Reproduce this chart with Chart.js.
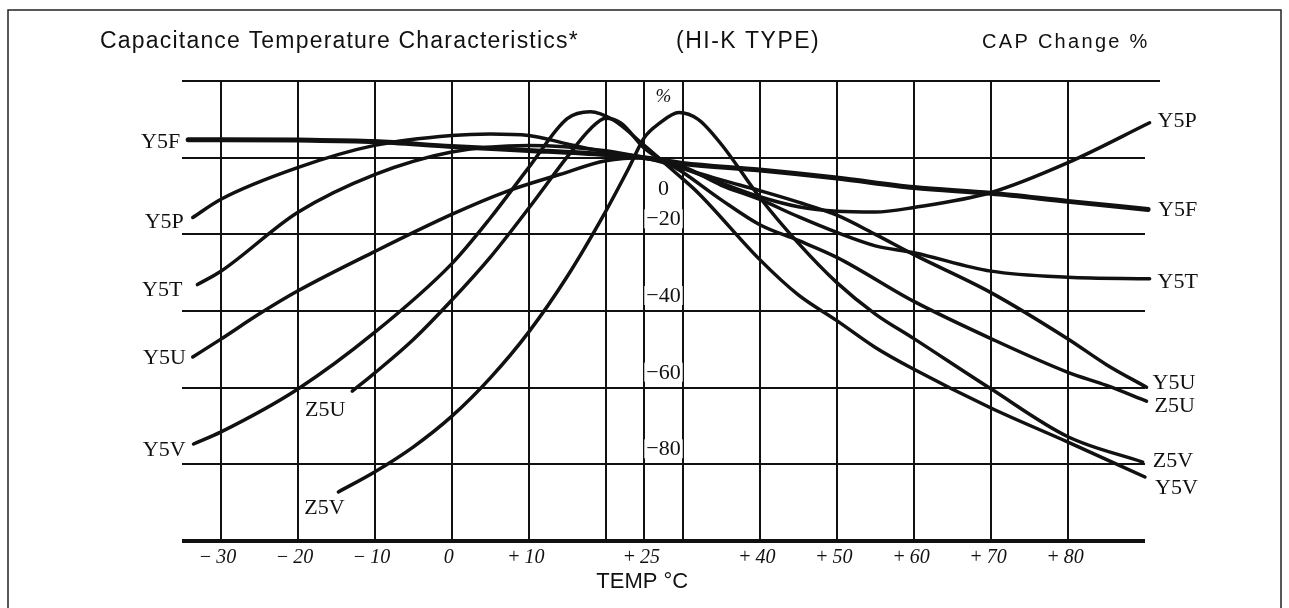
<!DOCTYPE html>
<html>
<head>
<meta charset="utf-8">
<title>Capacitance Temperature Characteristics</title>
<script src="https://cdn.jsdelivr.net/npm/chart.js@4.4.1/dist/chart.umd.min.js"></script>
<style>
  body { margin: 0; background: #fff; }
  #box { width: 1289px; height: 608px; }
</style>
</head>
<body>
<div id="box"><canvas id="capChart" width="1289" height="608"></canvas></div>
<script>
const tempTicks = [-30, -20, -10, 0, 10, 20, 25, 30, 40, 50, 60, 70, 80];
const tempTickLabels = ['\u2212\u200930', '\u2212\u200920', '\u2212\u200910', '0', '+\u200910', '', '+\u200925', '', '+\u200940', '+\u200950', '+\u200960', '+\u200970', '+\u200980'];
const capTicks = [-100, -80, -60, -40, -20, 0, 20];
const capTickLabels = ['', '\u221280', '\u221260', '\u221240', '\u221220', '0', '%'];

const y5fTemp = [-34.2, -30, -20, -10, 0, 10, 20, 25, 30, 40, 50, 60, 70, 80, 90.4];
const y5fCap = [4.7, 4.7, 4.6, 4.2, 2.9, 1.9, 0.8, 0, -1.5, -3.2, -5.3, -7.8, -9.3, -11.4, -13.5];

const y5pTemp = [-33.6, -30, -20, -10, 0, 5, 10, 15, 20, 25, 30, 35, 40, 45, 50, 55, 60, 70, 80, 90.6];
const y5pCap = [-15.6, -10.9, -2.6, 3.2, 5.8, 6.2, 5.8, 3.6, 1.5, 0, -2.8, -6.6, -10.2, -12.8, -14, -14.2, -13, -9.1, -1.3, 9.1];

const y5tTemp = [-33, -30, -20, -10, 0, 10, 20, 25, 30, 35, 40, 45, 50, 55, 60, 70, 80, 90.6];
const y5tCap = [-33.1, -29.7, -14.3, -4.4, 1.5, 3.2, 1.8, 0, -2.3, -7.2, -10.9, -15.4, -19.5, -23, -24.8, -29.6, -31.2, -31.6];

const y5uTemp = [-33.6, -30, -25, -20, -10, 0, 7, 14, 20, 25, 30, 35, 40, 45, 50, 55, 60, 70, 80, 85, 90.2];
const y5uCap = [-52, -47.4, -40.8, -34.8, -24.5, -14.8, -8.9, -4.4, -0.8, 0, -2.8, -5.8, -8.6, -11.6, -15, -20, -25.3, -35.2, -47.3, -54, -59.9];

const z5uTemp = [-12.9, -10, -5, 0, 5, 10, 15, 18, 20, 22, 25, 30, 35, 40, 45, 50, 60, 70, 80, 85, 90.2];
const z5uCap = [-60.9, -56.2, -47.5, -37.2, -26, -13.2, 0.2, 7.5, 10.3, 9, 2.5, -3.8, -11, -17.5, -21.6, -26, -37.5, -47.2, -56, -59.4, -63.5];

const y5vTemp = [-33.5, -30, -20, -10, 0, 5, 10, 15, 18, 21, 25, 29, 32, 40, 45, 50, 55, 60, 70, 80, 90];
const y5vCap = [-74.7, -71.6, -60.4, -45.6, -27.7, -15.8, -2.6, 10.2, 12, 9.8, 3.2, -3.8, -9.2, -26.6, -35.8, -42.5, -49.5, -55.2, -65.3, -74.2, -83.3];

const z5vTemp = [-14.7, -10, -5, 0, 5, 10, 15, 20, 23, 25, 27, 29.5, 32, 35, 40, 45, 50, 55, 60, 70, 80, 89.7];
const z5vCap = [-87.2, -82, -75.5, -67.5, -57.5, -45.5, -31, -14, -2.7, 5.2, 9, 11.8, 10, 3.5, -10.4, -22.3, -32.6, -40.8, -47.2, -60.3, -72.8, -79.4];

const curves = [
  { name: 'Y5F', temp: y5fTemp, cap: y5fCap },
  { name: 'Y5P', temp: y5pTemp, cap: y5pCap },
  { name: 'Y5T', temp: y5tTemp, cap: y5tCap },
  { name: 'Y5U', temp: y5uTemp, cap: y5uCap },
  { name: 'Z5U', temp: z5uTemp, cap: z5uCap },
  { name: 'Y5V', temp: y5vTemp, cap: y5vCap },
  { name: 'Z5V', temp: z5vTemp, cap: z5vCap }
];

// pixel offsets of the end labels from each curve's first / last point
const labelSpots = {
  Y5F: { left: [-8, 8, 'right'], right: [10, 7] },
  Y5P: { left: [-9, 11, 'right'], right: [8, 4] },
  Y5T: { left: [-15, 11, 'right'], right: [8, 9] },
  Y5U: { left: [-7, 7, 'right'], right: [6, 2] },
  Z5U: { left: [-27, 25, 'center'], right: [8, 11] },
  Y5V: { left: [-8, 12, 'right'], right: [10, 17] },
  Z5V: { left: [-14, 22, 'center'], right: [10, 5] }
};

const ink = '#111';
const serif = '"Liberation Serif", "Times New Roman", serif';
const sans = '"Liberation Sans", Arial, sans-serif';

function spacedText(ctx, text, x, y, spacing) {
  ctx.letterSpacing = spacing + 'px';
  ctx.fillText(text, x, y);
  ctx.letterSpacing = '0px';
}

const chartText = {
  id: 'chartText',
  beforeDatasetsDraw(chart) {
    const ctx = chart.ctx;
    const xs = chart.scales.x;
    const ys = chart.scales.y;
    const cx = xs.getPixelForValue(27.5);
    ctx.save();
    ctx.textAlign = 'center';
    ctx.textBaseline = 'alphabetic';
    capTicks.forEach((v, i) => {
      const text = capTickLabels[i];
      if (!text) return;
      let base = ys.getPixelForValue(v) - 9;
      ctx.font = '22px ' + serif;
      if (v === 0) base = ys.getPixelForValue(v) + 37;
      if (v === 20) {
        base = ys.getPixelForValue(v) + 21;
        ctx.font = 'italic 19px ' + serif;
      }
      const w = ctx.measureText(text).width;
      ctx.fillStyle = '#fff';
      ctx.fillRect(cx - w / 2 - 2, base - 16, w + 4, 19);
      ctx.fillStyle = ink;
      ctx.fillText(text, cx, base);
    });
    ctx.restore();
  },
  afterDraw(chart) {
    const ctx = chart.ctx;
    const xs = chart.scales.x;
    const ys = chart.scales.y;
    const area = chart.chartArea;
    ctx.save();
    ctx.fillStyle = ink;
    ctx.textBaseline = 'alphabetic';

    ctx.textAlign = 'left';
    ctx.font = '23px ' + sans;
    spacedText(ctx, 'Capacitance Temperature Characteristics*', 100, 48, 1.2);
    spacedText(ctx, '(HI-K TYPE)', 676, 48, 1.5);
    ctx.font = '20px ' + sans;
    spacedText(ctx, 'CAP Change %', 982, 48, 2.3);

    ctx.textAlign = 'center';
    ctx.font = 'italic 20px ' + serif;
    tempTicks.forEach((v, i) => {
      if (tempTickLabels[i]) ctx.fillText(tempTickLabels[i], xs.getPixelForValue(v) - 3, 563);
    });
    ctx.font = '22px ' + sans;
    ctx.fillText('TEMP \u00B0C', xs.getPixelForValue(25) - 2, 588);

    ctx.font = '22px ' + serif;
    curves.forEach(c => {
      const spot = labelSpots[c.name];
      const n = c.temp.length - 1;
      const x0 = xs.getPixelForValue(c.temp[0]);
      const y0 = ys.getPixelForValue(c.cap[0]);
      const x1 = xs.getPixelForValue(c.temp[n]);
      const y1 = ys.getPixelForValue(c.cap[n]);
      ctx.textAlign = spot.left[2];
      ctx.fillText(c.name, x0 + spot.left[0], y0 + spot.left[1]);
      ctx.textAlign = 'left';
      ctx.fillText(c.name, x1 + spot.right[0], y1 + spot.right[1]);
    });

    ctx.strokeStyle = ink;
    ctx.lineWidth = 2;
    ctx.beginPath();
    ctx.moveTo(area.right, ys.getPixelForValue(20));
    ctx.lineTo(area.right + 15, ys.getPixelForValue(20));
    ctx.stroke();

    ctx.strokeStyle = '#222';
    ctx.lineWidth = 1.5;
    ctx.beginPath();
    ctx.moveTo(8, 608);
    ctx.lineTo(8, 10);
    ctx.lineTo(1281, 10);
    ctx.lineTo(1281, 608);
    ctx.stroke();
    ctx.restore();
  }
};

new Chart(document.getElementById('capChart'), {
  type: 'line',
  data: {
    datasets: curves.map(c => ({
      label: c.name,
      data: c.temp.map((t, i) => ({ x: t, y: c.cap[i] })),
      borderColor: ink,
      borderWidth: c.name === 'Y5F' ? 5 : 3.5,
      borderCapStyle: 'round',
      pointRadius: 0,
      fill: false,
      clip: false,
      cubicInterpolationMode: 'monotone'
    }))
  },
  options: {
    responsive: false,
    animation: false,
    layout: { padding: { left: 182, right: 144, top: 81, bottom: 67 } },
    plugins: {
      legend: { display: false },
      tooltip: { enabled: false }
    },
    scales: {
      x: {
        type: 'linear',
        min: -35,
        max: 90,
        afterBuildTicks: scale => { scale.ticks = tempTicks.map(v => ({ value: v })); },
        ticks: { display: false },
        grid: { color: ink, lineWidth: 2, drawTicks: false },
        border: { display: false }
      },
      y: {
        type: 'linear',
        min: -100,
        max: 20,
        afterBuildTicks: scale => { scale.ticks = capTicks.map(v => ({ value: v })); },
        ticks: { display: false },
        grid: {
          color: ink,
          lineWidth: ctx => (ctx.tick && ctx.tick.value === -100 ? 4 : 2),
          drawTicks: false
        },
        border: { display: false }
      }
    }
  },
  plugins: [chartText]
});
</script>
</body>
</html>
